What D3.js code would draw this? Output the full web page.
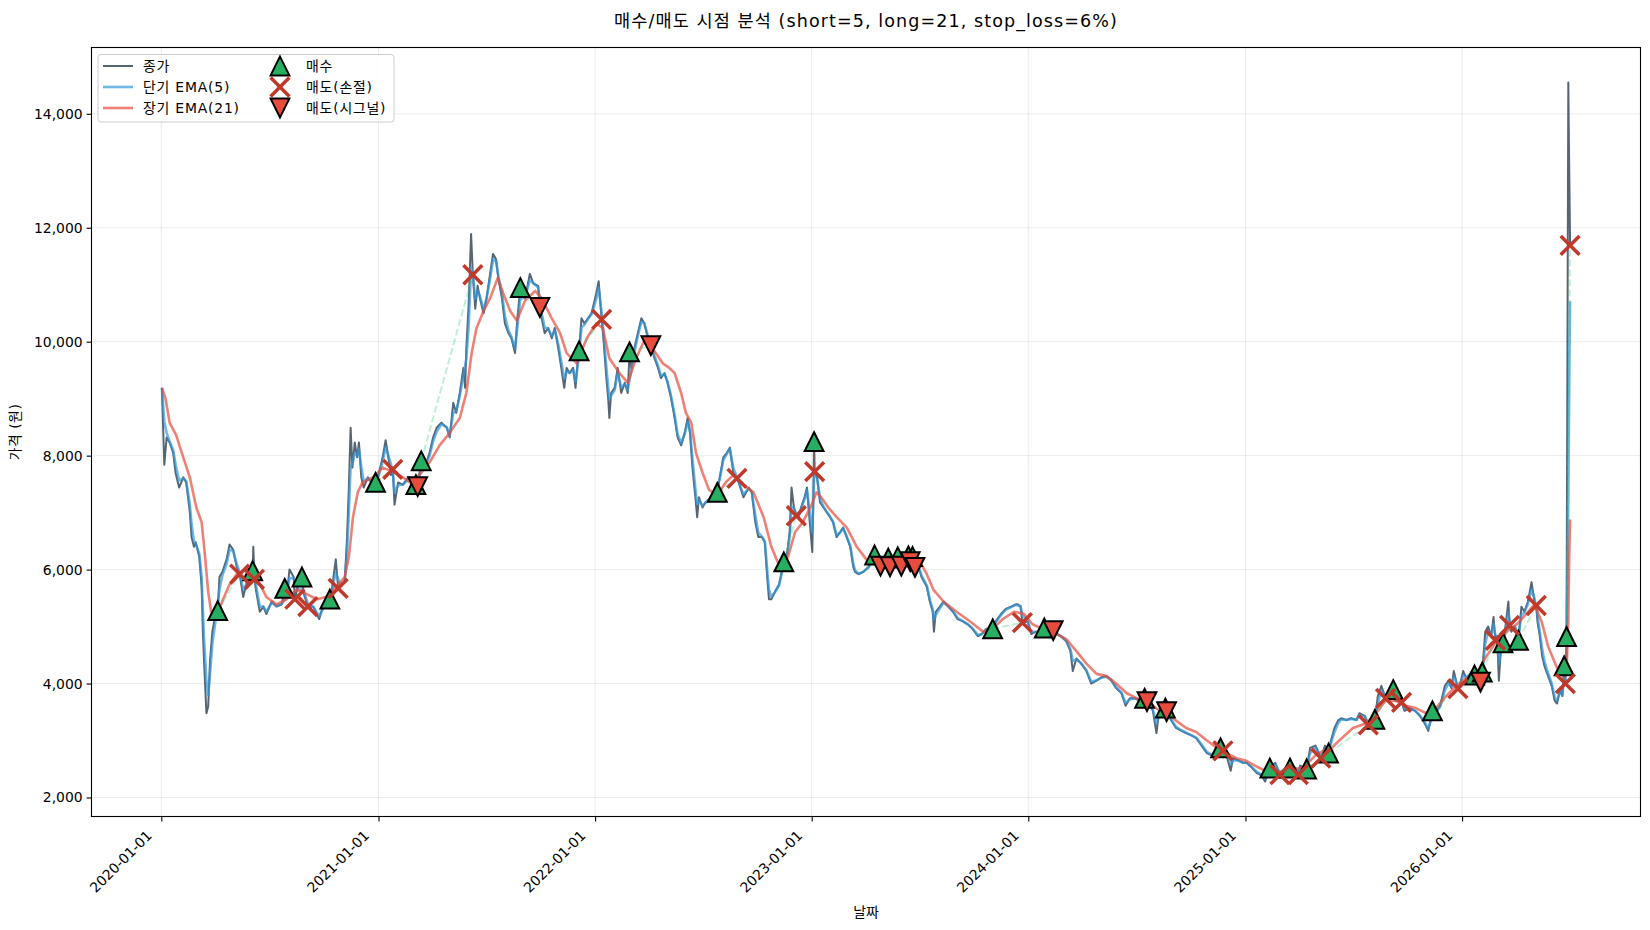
<!DOCTYPE html>
<html>
<head>
<meta charset="utf-8">
<script src="https://cdnjs.cloudflare.com/ajax/libs/d3/7.8.5/d3.min.js"></script>
<style>
body { margin: 0; background: #ffffff; }
text { font-family: "DejaVu Sans", "Noto Sans CJK KR", sans-serif; }
</style>
</head>
<body>
<script>
var w = 1650;
var h = 930;
var plotLeft = 91.5, plotRight = 1640.5, plotTop = 47.5, plotBottom = 816.5;

// 종가
var closeData = [
["2020-01-02",9190],["2020-01-06",7840],["2020-01-10",8320],["2020-01-15",8230],["2020-01-21",8050],["2020-01-25",7700],["2020-01-31",7440],["2020-02-07",7620],["2020-02-12",7530],["2020-02-18",7010],["2020-02-21",6570],["2020-02-25",6400],["2020-02-28",6480],["2020-03-05",6220],["2020-03-09",5700],["2020-03-11",4910],["2020-03-13",4400],["2020-03-17",3480],["2020-03-20",3600],["2020-03-23",4390],["2020-03-27",4910],["2020-04-02",5260],["2020-04-05",5280],["2020-04-08",5870],["2020-04-13",5960],["2020-04-20",6180],["2020-04-25",6440],["2020-05-01",6350],["2020-05-07",6050],["2020-05-12",5920],["2020-05-18",5520],["2020-05-24",5780],["2020-05-30",5960],["2020-06-03",5980],["2020-06-04",6400],["2020-06-06",5830],["2020-06-09",5610],["2020-06-15",5260],["2020-06-21",5350],["2020-06-26",5220],["2020-07-05",5440],["2020-07-13",5350],["2020-07-22",5390],["2020-07-27",5670],["2020-07-30",5520],["2020-08-04",6000],["2020-08-11",5870],["2020-08-13",5480],["2020-08-18",5700],["2020-08-25",5870],["2020-08-27",5610],["2020-09-04",5350],["2020-09-13",5350],["2020-09-23",5130],["2020-09-29",5350],["2020-10-08",5520],["2020-10-11",5480],["2020-10-15",5700],["2020-10-21",6180],["2020-10-25",5670],["2020-10-28",5700],["2020-11-05",5780],["2020-11-09",6570],["2020-11-12",7440],["2020-11-15",8490],["2020-11-18",7790],["2020-11-22",8230],["2020-11-26",7970],["2020-11-29",8230],["2020-12-03",7620],["2020-12-07",7440],["2020-12-14",7620],["2020-12-23",7490],["2020-12-27",7530],["2020-12-31",7620],
["2021-01-08",7970],["2021-01-13",8270],["2021-01-19",7880],["2021-01-22",7660],["2021-01-25",7760],["2021-01-28",7140],["2021-02-03",7530],["2021-02-11",7490],["2021-02-20",7620],["2021-03-01",7600],["2021-03-05",7490],["2021-03-08",7455],["2021-03-14",7910],["2021-03-20",7790],["2021-03-28",8050],["2021-04-03",8320],["2021-04-09",8490],["2021-04-17",8580],["2021-04-26",8490],["2021-05-01",8320],["2021-05-07",8930],["2021-05-12",8750],["2021-05-18",9100],["2021-05-24",9540],["2021-05-27",9190],["2021-05-29",9880],["2021-06-02",10670],["2021-06-06",11890],["2021-06-09",11175],["2021-06-13",10580],["2021-06-17",10980],["2021-06-21",10760],["2021-06-27",10500],["2021-07-02",10760],["2021-07-08",11190],["2021-07-13",11540],["2021-07-18",11450],["2021-07-22",11110],["2021-07-28",10760],["2021-08-02",10320],["2021-08-08",10150],["2021-08-13",10060],["2021-08-19",9800],["2021-08-23",10410],["2021-08-28",10950],["2021-09-05",10760],["2021-09-13",11190],["2021-09-19",11020],["2021-09-27",10980],["2021-09-30",10600],["2021-10-03",10410],["2021-10-08",10150],["2021-10-14",10240],["2021-10-20",10060],["2021-10-25",10240],["2021-10-31",9880],["2021-11-05",9540],["2021-11-10",9190],["2021-11-14",9540],["2021-11-19",9450],["2021-11-25",9540],["2021-11-29",9190],["2021-12-03",9710],["2021-12-05",9840],["2021-12-09",10410],["2021-12-14",10320],["2021-12-20",10410],["2021-12-26",10500],
["2022-01-03",10850],["2022-01-07",11060],["2022-01-12",10390],["2022-01-15",10060],["2022-01-20",9360],["2022-01-23",9010],["2022-01-25",8660],["2022-01-28",9100],["2022-02-03",9190],["2022-02-08",9540],["2022-02-14",9100],["2022-02-20",9280],["2022-02-25",9100],["2022-02-28",9820],["2022-03-03",9540],["2022-03-08",9880],["2022-03-14",10150],["2022-03-20",10410],["2022-03-25",10320],["2022-03-31",10060],["2022-04-05",9930],["2022-04-11",9710],["2022-04-17",9540],["2022-04-22",9360],["2022-04-28",9450],["2022-05-03",9280],["2022-05-09",9010],["2022-05-15",8660],["2022-05-20",8320],["2022-05-26",8180],["2022-06-01",8400],["2022-06-06",8660],["2022-06-10",8400],["2022-06-14",7790],["2022-06-19",7270],["2022-06-22",6920],["2022-06-25",7270],["2022-07-01",7090],["2022-07-06",7180],["2022-07-15",7270],["2022-07-23",7400],["2022-07-26",7355],["2022-07-30",7620],["2022-08-05",7970],["2022-08-11",8050],["2022-08-16",8140],["2022-08-22",7700],["2022-08-28",7600],["2022-08-31",7530],["2022-09-08",7270],["2022-09-17",7440],["2022-09-22",7355],["2022-09-28",6830],["2022-10-03",6570],["2022-10-09",6570],["2022-10-14",6480],["2022-10-18",5870],["2022-10-21",5480],["2022-10-25",5480],["2022-10-31",5610],["2022-11-07",5740],["2022-11-15",6135],["2022-11-21",6310],["2022-11-25",6660],["2022-11-28",7440],["2022-12-02",7090],["2022-12-06",6945],["2022-12-10",6920],["2022-12-14",7090],["2022-12-20",7270],["2022-12-24",7440],["2022-12-28",6920],
["2023-01-02",6310],["2023-01-04",7440],["2023-01-05",8245],["2023-01-06",7720],["2023-01-10",7620],["2023-01-15",7180],["2023-01-21",7090],["2023-01-26",7010],["2023-02-01",6920],["2023-02-06",6830],["2023-02-12",6570],["2023-02-18",6660],["2023-02-23",6740],["2023-03-01",6570],["2023-03-07",6400],["2023-03-12",6050],["2023-03-15",5960],["2023-03-21",5920],["2023-03-29",5960],["2023-04-07",6050],["2023-04-17",6256],["2023-04-27",6060],["2023-05-07",6180],["2023-05-10",6200],["2023-05-13",6050],["2023-05-18",6220],["2023-05-26",6225],["2023-06-01",6060],["2023-06-08",6220],["2023-06-13",6240],["2023-06-16",6140],["2023-06-20",6230],["2023-06-24",6040],["2023-06-30",6050],["2023-07-05",5870],["2023-07-14",5700],["2023-07-19",5440],["2023-07-24",5260],["2023-07-26",4910],["2023-07-29",5260],["2023-08-05",5350],["2023-08-11",5440],["2023-08-19",5350],["2023-08-27",5260],["2023-09-04",5130],["2023-09-13",5090],["2023-09-21",5040],["2023-09-29",4960],["2023-10-08",4830],["2023-10-15",4870],["2023-10-22",4960],["2023-11-02",4960],["2023-11-07",5090],["2023-11-16",5220],["2023-11-24",5310],["2023-12-03",5350],["2023-12-11",5390],["2023-12-14",5390],["2023-12-19",5350],["2023-12-22",5070],["2023-12-31",5090],
["2024-01-06",4870],["2024-01-14",4910],["2024-01-22",4870],["2024-01-28",4975],["2024-01-31",4960],["2024-02-08",4910],["2024-02-12",4930],["2024-02-17",4870],["2024-02-25",4830],["2024-03-05",4740],["2024-03-12",4570],["2024-03-16",4220],["2024-03-22",4440],["2024-03-30",4350],["2024-04-08",4220],["2024-04-16",4000],["2024-04-25",4050],["2024-05-03",4110],["2024-05-12",4130],["2024-05-20",4050],["2024-05-28",3920],["2024-06-06",3830],["2024-06-13",3610],["2024-06-20",3740],["2024-06-28",3740],["2024-07-07",3700],["2024-07-15",3740],["2024-07-19",3682],["2024-07-24",3610],["2024-07-29",3520],["2024-08-04",3130],["2024-08-08",3480],["2024-08-15",3430],["2024-08-19",3567],["2024-08-21",3507],["2024-08-29",3350],["2024-09-06",3220],["2024-09-15",3170],["2024-09-23",3130],["2024-10-02",3090],["2024-10-10",3040],["2024-10-19",2910],["2024-10-28",2780],["2024-11-05",2740],["2024-11-14",2830],["2024-11-20",2870],["2024-11-24",2820],["2024-11-30",2740],["2024-12-07",2470],["2024-12-11",2690],["2024-12-20",2650],["2024-12-28",2610],
["2025-01-03",2610],["2025-01-12",2520],["2025-01-20",2430],["2025-01-28",2390],["2025-02-03",2280],["2025-02-11",2515],["2025-02-20",2610],["2025-02-28",2400],["2025-03-09",2520],["2025-03-17",2515],["2025-03-26",2520],["2025-03-31",2400],["2025-04-03",2560],["2025-04-14",2500],["2025-04-20",2870],["2025-04-29",2910],["2025-05-08",2690],["2025-05-15",2910],["2025-05-21",2780],["2025-05-25",3000],["2025-05-31",3220],["2025-06-06",3350],["2025-06-11",3390],["2025-06-20",3360],["2025-06-28",3390],["2025-07-07",3360],["2025-07-12",3480],["2025-07-21",3430],["2025-07-27",3275],["2025-07-29",3300],["2025-08-07",3370],["2025-08-12",3780],["2025-08-18",3960],["2025-08-25",3740],["2025-08-29",3740],["2025-09-04",3870],["2025-09-07",3895],["2025-09-10",3700],["2025-09-21",3670],["2025-09-26",3520],["2025-10-05",3570],["2025-10-14",3520],["2025-10-22",3430],["2025-10-30",3300],["2025-11-05",3170],["2025-11-12",3520],["2025-11-17",3500],["2025-11-25",3610],["2025-12-03",3960],["2025-12-09",4050],["2025-12-14",3920],["2025-12-18",4220],["2025-12-25",3910],["2025-12-28",3960],
["2026-01-03",4220],["2026-01-08",4090],["2026-01-16",4180],["2026-01-22",4150],["2026-01-25",4130],["2026-02-01",4025],["2026-02-04",4200],["2026-02-09",4910],["2026-02-14",5000],["2026-02-19",4830],["2026-02-23",5170],["2026-02-26",4760],["2026-03-01",4830],["2026-03-04",4050],["2026-03-08",4740],["2026-03-11",4715],["2026-03-14",4910],["2026-03-20",5440],["2026-03-22",5020],["2026-03-25",4910],["2026-03-31",5000],["2026-04-06",4760],["2026-04-11",5350],["2026-04-16",5260],["2026-04-22",5440],["2026-04-28",5780],["2026-05-03",5440],["2026-05-06",5370],["2026-05-08",5090],["2026-05-12",4830],["2026-05-16",4480],["2026-05-20",4300],["2026-05-26",4130],["2026-06-01",3960],["2026-06-06",3700],["2026-06-10",3650],["2026-06-15",3900],["2026-06-19",3780],["2026-06-22",4310],["2026-06-24",4000],["2026-06-26",4824],["2026-06-29",14550],["2026-06-30",13500],["2026-07-01",12600],["2026-07-02",11690]
];

// 단기 EMA(5)
var ema5Data = [
["2020-01-02",9190],["2020-01-06",8600],["2020-01-10",8400],["2020-01-15",8250],["2020-01-21",8100],["2020-01-25",7850],["2020-01-31",7560],["2020-02-07",7600],["2020-02-12",7550],["2020-02-18",7150],["2020-02-21",6800],["2020-02-25",6500],["2020-02-28",6450],["2020-03-05",6280],["2020-03-09",5850],["2020-03-11",5300],["2020-03-13",4800],["2020-03-17",4050],["2020-03-20",3800],["2020-03-23",4150],["2020-03-27",4700],["2020-04-02",5150],["2020-04-08",5650],["2020-04-13",5900],["2020-04-20",6100],["2020-04-25",6350],["2020-05-01",6330],["2020-05-07",6100],["2020-05-12",5950],["2020-05-18",5650],["2020-05-24",5750],["2020-05-30",5900],["2020-06-04",6150],["2020-06-09",5700],["2020-06-15",5350],["2020-06-21",5350],["2020-06-26",5260],["2020-07-05",5420],["2020-07-13",5360],["2020-07-22",5400],["2020-07-30",5520],["2020-08-04",5850],["2020-08-11",5850],["2020-08-18",5650],["2020-08-27",5650],["2020-09-04",5400],["2020-09-13",5350],["2020-09-23",5180],["2020-09-29",5300],["2020-10-08",5480],["2020-10-15",5650],["2020-10-21",5950],["2020-10-28",5750],["2020-11-05",5780],["2020-11-09",6300],["2020-11-12",7000],["2020-11-15",7800],["2020-11-18",7850],["2020-11-22",8050],["2020-11-26",8000],["2020-11-29",8120],["2020-12-03",7800],["2020-12-07",7550],["2020-12-14",7600],["2020-12-23",7520],["2020-12-31",7600],
["2021-01-08",7900],["2021-01-13",8150],["2021-01-19",7950],["2021-01-25",7750],["2021-01-28",7350],["2021-02-03",7480],["2021-02-11",7490],["2021-02-20",7580],["2021-03-05",7500],["2021-03-08",7470],["2021-03-14",7800],["2021-03-20",7800],["2021-03-28",8000],["2021-04-03",8250],["2021-04-09",8420],["2021-04-17",8550],["2021-04-26",8500],["2021-05-01",8350],["2021-05-07",8750],["2021-05-12",8780],["2021-05-18",9050],["2021-05-24",9400],["2021-05-29",9700],["2021-06-02",10300],["2021-06-06",11300],["2021-06-09",11200],["2021-06-13",10750],["2021-06-17",10900],["2021-06-21",10800],["2021-06-27",10560],["2021-07-02",10750],["2021-07-08",11100],["2021-07-13",11450],["2021-07-18",11420],["2021-07-22",11150],["2021-07-28",10850],["2021-08-02",10450],["2021-08-08",10200],["2021-08-13",10080],["2021-08-19",9880],["2021-08-23",10250],["2021-08-28",10750],["2021-09-05",10780],["2021-09-13",11080],["2021-09-19",11030],["2021-09-27",10950],["2021-10-03",10500],["2021-10-08",10250],["2021-10-14",10230],["2021-10-20",10100],["2021-10-25",10200],["2021-10-31",9950],["2021-11-05",9650],["2021-11-10",9350],["2021-11-14",9480],["2021-11-19",9450],["2021-11-25",9500],["2021-11-29",9300],["2021-12-05",9750],["2021-12-09",10250],["2021-12-14",10300],["2021-12-20",10400],["2021-12-26",10480],
["2022-01-03",10750],["2022-01-07",10950],["2022-01-12",10500],["2022-01-15",10150],["2022-01-20",9550],["2022-01-25",9000],["2022-01-28",9050],["2022-02-03",9150],["2022-02-08",9450],["2022-02-14",9200],["2022-02-20",9260],["2022-02-25",9150],["2022-03-03",9500],["2022-03-08",9800],["2022-03-14",10100],["2022-03-20",10350],["2022-03-25",10320],["2022-03-31",10100],["2022-04-05",9950],["2022-04-11",9750],["2022-04-17",9580],["2022-04-22",9400],["2022-04-28",9430],["2022-05-03",9300],["2022-05-09",9050],["2022-05-15",8720],["2022-05-20",8380],["2022-05-26",8220],["2022-06-01",8380],["2022-06-06",8600],["2022-06-10",8420],["2022-06-14",7950],["2022-06-19",7420],["2022-06-22",7150],["2022-06-25",7220],["2022-07-01",7120],["2022-07-06",7170],["2022-07-15",7260],["2022-07-23",7380],["2022-07-30",7580],["2022-08-05",7920],["2022-08-11",8030],["2022-08-16",8120],["2022-08-22",7780],["2022-08-28",7620],["2022-09-08",7320],["2022-09-17",7420],["2022-09-22",7360],["2022-09-28",6950],["2022-10-03",6650],["2022-10-09",6580],["2022-10-14",6500],["2022-10-18",6000],["2022-10-21",5650],["2022-10-25",5520],["2022-10-31",5600],["2022-11-07",5720],["2022-11-15",6100],["2022-11-21",6280],["2022-11-25",6600],["2022-11-28",7100],["2022-12-02",7080],["2022-12-06",6980],["2022-12-10",6950],["2022-12-14",7060],["2022-12-20",7240],["2022-12-24",7400],["2022-12-28",7050],
["2023-01-02",6650],["2023-01-05",7600],["2023-01-06",7650],["2023-01-10",7620],["2023-01-15",7250],["2023-01-21",7100],["2023-01-26",7020],["2023-02-01",6930],["2023-02-06",6840],["2023-02-12",6600],["2023-02-18",6650],["2023-02-23",6720],["2023-03-01",6580],["2023-03-07",6420],["2023-03-12",6100],["2023-03-15",5990],["2023-03-21",5930],["2023-03-29",5960],["2023-04-07",6040],["2023-04-17",6200],["2023-04-27",6100],["2023-05-07",6160],["2023-05-13",6090],["2023-05-18",6190],["2023-06-01",6100],["2023-06-10",6200],["2023-06-16",6160],["2023-06-24",6080],["2023-06-30",6050],["2023-07-05",5900],["2023-07-14",5720],["2023-07-19",5480],["2023-07-24",5300],["2023-07-26",5120],["2023-07-29",5200],["2023-08-05",5320],["2023-08-11",5420],["2023-08-19",5360],["2023-08-27",5270],["2023-09-04",5150],["2023-09-13",5090],["2023-09-21",5040],["2023-09-29",4970],["2023-10-08",4850],["2023-10-15",4870],["2023-10-22",4950],["2023-11-02",4960],["2023-11-07",5070],["2023-11-16",5200],["2023-11-24",5300],["2023-12-03",5340],["2023-12-11",5380],["2023-12-19",5360],["2023-12-22",5200],["2023-12-31",5090],
["2024-01-06",4900],["2024-01-14",4910],["2024-01-22",4880],["2024-01-31",4950],["2024-02-08",4920],["2024-02-17",4880],["2024-02-25",4830],["2024-03-05",4750],["2024-03-12",4600],["2024-03-16",4400],["2024-03-22",4420],["2024-03-30",4360],["2024-04-08",4230],["2024-04-16",4030],["2024-04-25",4060],["2024-05-03",4100],["2024-05-12",4120],["2024-05-20",4060],["2024-05-28",3940],["2024-06-06",3840],["2024-06-13",3660],["2024-06-20",3720],["2024-06-28",3740],["2024-07-07",3710],["2024-07-15",3720],["2024-07-24",3620],["2024-07-29",3540],["2024-08-04",3300],["2024-08-08",3420],["2024-08-15",3440],["2024-08-21",3500],["2024-08-29",3370],["2024-09-06",3240],["2024-09-15",3180],["2024-09-23",3140],["2024-10-02",3090],["2024-10-10",3050],["2024-10-19",2930],["2024-10-28",2800],["2024-11-05",2750],["2024-11-14",2820],["2024-11-20",2850],["2024-11-30",2750],["2024-12-07",2580],["2024-12-11",2650],["2024-12-20",2650],["2024-12-28",2610],
["2025-01-03",2610],["2025-01-12",2530],["2025-01-20",2450],["2025-01-28",2400],["2025-02-03",2330],["2025-02-11",2470],["2025-02-20",2580],["2025-02-28",2440],["2025-03-09",2500],["2025-03-17",2510],["2025-03-26",2520],["2025-03-31",2450],["2025-04-03",2520],["2025-04-14",2530],["2025-04-20",2780],["2025-04-29",2880],["2025-05-08",2720],["2025-05-15",2860],["2025-05-21",2800],["2025-05-25",2950],["2025-05-31",3150],["2025-06-06",3300],["2025-06-11",3370],["2025-06-20",3360],["2025-06-28",3380],["2025-07-07",3360],["2025-07-12",3450],["2025-07-21",3430],["2025-07-27",3300],["2025-08-07",3380],["2025-08-12",3650],["2025-08-18",3880],["2025-08-25",3780],["2025-09-04",3830],["2025-09-10",3740],["2025-09-21",3680],["2025-09-26",3560],["2025-10-05",3560],["2025-10-14",3520],["2025-10-22",3440],["2025-10-30",3320],["2025-11-05",3210],["2025-11-12",3420],["2025-11-17",3480],["2025-11-25",3590],["2025-12-03",3880],["2025-12-09",4000],["2025-12-14",3950],["2025-12-18",4120],["2025-12-25",3950],["2025-12-28",3960],
["2026-01-03",4150],["2026-01-08",4110],["2026-01-16",4170],["2026-01-25",4140],["2026-02-01",4060],["2026-02-04",4150],["2026-02-09",4700],["2026-02-14",4920],["2026-02-19",4860],["2026-02-23",5050],["2026-02-26",4850],["2026-03-01",4830],["2026-03-04",4350],["2026-03-08",4600],["2026-03-14",4850],["2026-03-20",5250],["2026-03-22",5100],["2026-03-25",4980],["2026-03-31",5000],["2026-04-06",4850],["2026-04-11",5200],["2026-04-16",5250],["2026-04-22",5400],["2026-04-28",5650],["2026-05-03",5500],["2026-05-08",5200],["2026-05-12",4900],["2026-05-16",4600],["2026-05-20",4380],["2026-05-26",4180],["2026-06-01",4000],["2026-06-06",3760],["2026-06-10",3700],["2026-06-15",3850],["2026-06-19",3800],["2026-06-22",4100],["2026-06-24",4050],["2026-06-26",4500],["2026-06-29",7200],["2026-06-30",8500],["2026-07-01",9800],["2026-07-02",10710]
];

// 장기 EMA(21)
var ema21Data = [
["2020-01-02",9190],["2020-01-08",9010],["2020-01-15",8580],["2020-01-26",8360],["2020-02-07",7970],["2020-02-18",7620],["2020-02-29",7090],["2020-03-09",6830],["2020-03-14",6310],["2020-03-20",5610],["2020-03-25",5260],["2020-04-03",5170],["2020-04-14",5480],["2020-04-25",5740],["2020-05-07",5920],["2020-05-24",6000],["2020-06-09",5870],["2020-06-26",5520],["2020-07-13",5390],["2020-07-30",5480],["2020-08-16",5650],["2020-09-02",5570],["2020-09-19",5480],["2020-10-05",5520],["2020-10-22",5700],["2020-11-05",5870],["2020-11-12",6220],["2020-11-19",6920],["2020-11-27",7355],["2020-12-05",7530],["2020-12-23",7620],
["2021-01-08",7790],["2021-01-25",7720],["2021-02-11",7620],["2021-02-23",7530],["2021-03-11",7660],["2021-03-28",7880],["2021-04-14",8180],["2021-05-01",8400],["2021-05-18",8660],["2021-05-29",9100],["2021-06-07",9800],["2021-06-15",10230],["2021-06-27",10540],["2021-07-08",10760],["2021-07-21",11120],["2021-07-30",10850],["2021-08-11",10540],["2021-08-22",10370],["2021-09-05",10720],["2021-09-22",10890],["2021-10-03",10760],["2021-10-20",10410],["2021-11-03",10150],["2021-11-14",9800],["2021-12-01",9620],["2021-12-18",10060],
["2022-01-03",10320],["2022-01-14",10240],["2022-01-25",9710],["2022-02-11",9450],["2022-02-25",9280],["2022-03-11",9710],["2022-03-25",10020],["2022-04-08",9880],["2022-04-25",9620],["2022-05-06",9540],["2022-05-15",9450],["2022-05-26",9100],["2022-06-03",8750],["2022-06-12",8580],["2022-06-20",8050],["2022-07-01",7700],["2022-07-12",7400],["2022-07-26",7310],["2022-08-09",7530],["2022-08-22",7660],["2022-09-08",7490],["2022-09-25",7355],["2022-10-12",6920],["2022-10-25",6400],["2022-11-08",6050],["2022-11-22",6220],["2022-12-04",6660],["2022-12-17",6830],
["2023-01-01",7140],["2023-01-09",7355],["2023-01-17",7270],["2023-01-29",7090],["2023-02-12",6920],["2023-03-01",6740],["2023-03-18",6400],["2023-04-03",6180],["2023-04-26",6130],["2023-05-18",6180],["2023-06-10",6220],["2023-06-30",6180],["2023-07-14",5920],["2023-07-25",5650],["2023-08-11",5440],["2023-09-02",5260],["2023-09-25",5090],["2023-10-17",4910],["2023-11-02",4960],["2023-11-19",5130],["2023-12-08",5260],["2023-12-25",5220],
["2024-01-08",5040],["2024-01-25",4960],["2024-02-11",4910],["2024-03-05",4780],["2024-03-22",4570],["2024-04-08",4350],["2024-04-25",4170],["2024-05-12",4130],["2024-05-28",4000],["2024-06-15",3830],["2024-07-02",3740],["2024-07-19",3700],["2024-08-04",3560],["2024-08-21",3480],["2024-09-06",3350],["2024-09-23",3220],["2024-10-10",3150],["2024-10-28",3000],["2024-11-14",2870],["2024-11-30",2780],["2024-12-17",2690],
["2025-01-01",2650],["2025-01-17",2560],["2025-02-03",2470],["2025-02-20",2430],["2025-03-09",2470],["2025-03-26",2490],["2025-04-12",2560],["2025-04-29",2740],["2025-05-15",2840],["2025-05-22",2830],["2025-06-08",3000],["2025-07-01",3220],["2025-07-23",3300],["2025-08-09",3480],["2025-08-25",3700],["2025-09-11",3700],["2025-09-28",3610],["2025-10-15",3570],["2025-11-01",3480],["2025-11-18",3570],["2025-12-05",3780],["2025-12-22",3960],
["2026-01-08",4090],["2026-01-25",4180],["2026-02-11",4480],["2026-02-28",4740],["2026-03-17",4910],["2026-04-03",5040],["2026-04-19",5220],["2026-05-03",5390],["2026-05-15",5090],["2026-05-26",4650],["2026-06-09",4300],["2026-06-20",4130],["2026-06-26",4200],["2026-06-29",5100],["2026-06-30",5900],["2026-07-01",6450],["2026-07-02",6880]
];

// 매수 / 매도 points
var buyData = [
["2020-04-05",5280],["2020-06-03",5980],["2020-07-27",5670],["2020-08-25",5870],["2020-10-11",5480],["2020-12-27",7530],["2021-03-05",7490],["2021-03-14",7910],["2021-08-28",10950],["2021-12-05",9840],["2022-02-28",9820],["2022-07-26",7355],["2022-11-15",6135],["2023-01-05",8245],["2023-04-17",6256],["2023-05-10",6200],["2023-05-26",6225],["2023-06-13",6240],["2023-06-20",6230],["2023-11-02",4960],["2024-01-28",4975],["2024-07-15",3740],["2024-08-19",3567],["2024-11-20",2870],["2025-02-11",2515],["2025-03-17",2515],["2025-04-14",2500],["2025-05-21",2780],["2025-08-07",3370],["2025-09-07",3895],["2025-11-12",3520],["2026-01-22",4150],["2026-02-04",4200],["2026-03-11",4715],["2026-04-06",4760],["2026-06-22",4310],["2026-06-26",4824]
];
var stopSellData = [
["2020-05-12",5920],["2020-06-06",5830],["2020-08-13",5480],["2020-09-04",5350],["2020-10-25",5670],["2021-01-25",7760],["2021-06-09",11175],["2022-01-12",10390],["2022-08-28",7600],["2022-12-06",6945],["2023-01-06",7720],["2023-12-22",5070],["2024-11-24",2820],["2025-02-28",2400],["2025-03-31",2400],["2025-05-08",2690],["2025-07-27",3275],["2025-08-25",3740],["2025-09-21",3670],["2025-12-25",3910],["2026-02-26",4760],["2026-03-22",5020],["2026-05-06",5370],["2026-06-24",4000],["2026-07-02",11690]
];
var signalSellData = [
["2021-03-08",7455],["2021-09-30",10600],["2022-04-05",9930],["2023-04-27",6060],["2023-05-13",6050],["2023-06-01",6060],["2023-06-16",6140],["2023-06-24",6040],["2024-02-12",4930],["2024-07-19",3682],["2024-08-21",3507],["2026-02-01",4025]
];

var yTicks = [2000, 4000, 6000, 8000, 10000, 12000, 14000];
var xTickDates = ["2020-01-01","2021-01-01","2022-01-01","2023-01-01","2024-01-01","2025-01-01","2026-01-01"];
var titleText = "매수/매도 시점 분석 (short=5, long=21, stop_loss=6%)";
var legendLabels = ["종가", "단기 EMA(5)", "장기 EMA(21)", "매수", "매도(손절)", "매도(시그널)"];

var parseDate = d3.timeParse("%Y-%m-%d");
function toPoints(arr) {
    return arr.map(function(d) { return {date: parseDate(d[0]), value: d[1]}; });
}
var closePts = toPoints(closeData);
var ema5Pts = toPoints(ema5Data);
var ema21Pts = toPoints(ema21Data);
var buys = toPoints(buyData);
var stops = toPoints(stopSellData);
var signals = toPoints(signalSellData);

// matplotlib-like 5% margins around the data
var xExt = d3.extent(closePts, function(d) { return d.date; });
var xPad = (xExt[1] - xExt[0]) * 0.05;
var x = d3.scaleTime()
    .domain([new Date(+xExt[0] - xPad), new Date(+xExt[1] + xPad)])
    .range([plotLeft, plotRight]);
var yExt = d3.extent(closePts, function(d) { return d.value; });
var yPad = (yExt[1] - yExt[0]) * 0.05;
var y = d3.scaleLinear()
    .domain([yExt[0] - yPad, yExt[1] + yPad])
    .range([plotBottom, plotTop]);

var svg = d3.select("body").append("svg")
    .attr("width", w)
    .attr("height", h);

svg.append("rect").attr("width", w).attr("height", h).attr("fill", "#ffffff");

// grid
var grid = svg.append("g");
xTickDates.forEach(function(s) {
    var px = x(parseDate(s));
    grid.append("line").attr("x1", px).attr("x2", px).attr("y1", plotTop).attr("y2", plotBottom)
        .attr("stroke", "#b0b0b0").attr("stroke-opacity", 0.3).attr("stroke-width", 0.8);
});
yTicks.forEach(function(v) {
    grid.append("line").attr("x1", plotLeft).attr("x2", plotRight).attr("y1", y(v)).attr("y2", y(v))
        .attr("stroke", "#b0b0b0").attr("stroke-opacity", 0.3).attr("stroke-width", 0.8);
});

var line = d3.line()
    .x(function(d) { return x(d.date); })
    .y(function(d) { return y(d.value); });

svg.append("path").datum(closePts).attr("d", line)
    .attr("fill", "none").attr("stroke", "#2c3e50").attr("stroke-opacity", 0.8)
    .attr("stroke-width", 2).attr("stroke-linejoin", "round");
svg.append("path").datum(ema5Pts).attr("d", line)
    .attr("fill", "none").attr("stroke", "#3498db").attr("stroke-opacity", 0.7)
    .attr("stroke-width", 2.6).attr("stroke-linejoin", "round");
svg.append("path").datum(ema21Pts).attr("d", line)
    .attr("fill", "none").attr("stroke", "#e74c3c").attr("stroke-opacity", 0.7)
    .attr("stroke-width", 2.6).attr("stroke-linejoin", "round");

// trade lines: each buy joined to the next sell
var sells = stops.concat(signals).sort(function(a, b) { return a.date - b.date; });
var trades = buys.map(function(b, i) { return {buy: b, sell: sells[i]}; });
svg.append("g").selectAll("line").data(trades).join("line")
    .attr("x1", function(d) { return x(d.buy.date); })
    .attr("y1", function(d) { return y(d.buy.value); })
    .attr("x2", function(d) { return x(d.sell.date); })
    .attr("y2", function(d) { return y(d.sell.value); })
    .attr("stroke", function(d) { return d.sell.value > d.buy.value ? "#2ecc71" : "#e74c3c"; })
    .attr("stroke-opacity", 0.3)
    .attr("stroke-width", 2)
    .attr("stroke-dasharray", "7,3");

// marker shapes
var ms = 9.4;
function triUp(s) { return "M0," + (-s) + "L" + s + "," + s + "L" + (-s) + "," + s + "Z"; }
function triDown(s) { return "M0," + s + "L" + s + "," + (-s) + "L" + (-s) + "," + (-s) + "Z"; }
function cross(s) { return "M" + (-s) + "," + (-s) + "L" + s + "," + s + "M" + (-s) + "," + s + "L" + s + "," + (-s); }

function placeAt(d) { return "translate(" + x(d.date) + "," + y(d.value) + ")"; }

svg.append("g").selectAll("path").data(buys).join("path")
    .attr("d", triUp(ms)).attr("transform", placeAt)
    .attr("fill", "#27ae60").attr("stroke", "#000").attr("stroke-width", 2).attr("stroke-linejoin", "miter");
svg.append("g").selectAll("path").data(stops).join("path")
    .attr("d", cross(ms)).attr("transform", placeAt)
    .attr("fill", "none").attr("stroke", "#c0392b").attr("stroke-width", 3.5);
svg.append("g").selectAll("path").data(signals).join("path")
    .attr("d", triDown(ms)).attr("transform", placeAt)
    .attr("fill", "#e74c3c").attr("stroke", "#000").attr("stroke-width", 2).attr("stroke-linejoin", "miter");

// axes
var yAxis = d3.axisLeft(y).tickValues(yTicks).tickFormat(d3.format(",")).tickSize(4.9).tickPadding(4);
var gy = svg.append("g").attr("transform", "translate(" + plotLeft + ",0)").call(yAxis);
gy.select(".domain").remove();
gy.selectAll("line").attr("stroke", "#000").attr("stroke-width", 1.1);
gy.selectAll("text").attr("font-size", 13.9).attr("fill", "#000")
    .style("font-family", "'DejaVu Sans', 'Noto Sans CJK KR', sans-serif");

var xAxis = d3.axisBottom(x).tickValues(xTickDates.map(parseDate))
    .tickFormat(d3.timeFormat("%Y-%m-%d")).tickSize(4.9);
var gx = svg.append("g").attr("transform", "translate(0," + plotBottom + ")").call(xAxis);
gx.select(".domain").remove();
gx.selectAll("line").attr("stroke", "#000").attr("stroke-width", 1.1);
gx.selectAll("text")
    .attr("x", 0).attr("y", 0).attr("dy", 0)
    .attr("text-anchor", "end")
    .attr("transform", "translate(-9,20) rotate(-45)")
    .attr("font-size", 13.9).attr("fill", "#000")
    .style("font-family", "'DejaVu Sans', 'Noto Sans CJK KR', sans-serif");

// frame
svg.append("rect")
    .attr("x", plotLeft).attr("y", plotTop)
    .attr("width", plotRight - plotLeft).attr("height", plotBottom - plotTop)
    .attr("fill", "none").attr("stroke", "#000").attr("stroke-width", 1.1);

// titles
svg.append("text")
    .text(titleText)
    .attr("x", (plotLeft + plotRight) / 2)
    .attr("y", 27)
    .attr("text-anchor", "middle")
    .attr("font-size", 17.5)
    .attr("letter-spacing", 1.1)
    .attr("fill", "#000");
svg.append("text")
    .text("날짜")
    .attr("x", (plotLeft + plotRight) / 2)
    .attr("y", 917)
    .attr("text-anchor", "middle")
    .attr("font-size", 13.9)
    .attr("fill", "#000");
svg.append("text")
    .text("가격 (원)")
    .attr("transform", "translate(20," + ((plotTop + plotBottom) / 2) + ") rotate(-90)")
    .attr("text-anchor", "middle")
    .attr("font-size", 13.9)
    .attr("letter-spacing", 0.5)
    .attr("fill", "#000");

// legend
var lg = svg.append("g");
lg.append("rect")
    .attr("x", 98).attr("y", 54.5).attr("width", 296).attr("height", 67.5)
    .attr("rx", 3).attr("fill", "#ffffff").attr("fill-opacity", 0.8)
    .attr("stroke", "#cccccc").attr("stroke-width", 1);
var rowY = [66, 87, 108];
var lineStyles = [
    {color: "#2c3e50", op: 0.8, width: 2},
    {color: "#3498db", op: 0.7, width: 2.6},
    {color: "#e74c3c", op: 0.7, width: 2.6}
];
lineStyles.forEach(function(s, i) {
    lg.append("line").attr("x1", 103).attr("x2", 133).attr("y1", rowY[i]).attr("y2", rowY[i])
        .attr("stroke", s.color).attr("stroke-opacity", s.op).attr("stroke-width", s.width);
    lg.append("text").text(legendLabels[i]).attr("x", 143).attr("y", rowY[i] + 5)
        .attr("font-size", 13.9).attr("letter-spacing", 0.8).attr("fill", "#000");
});
lg.append("path").attr("d", triUp(ms)).attr("transform", "translate(280," + rowY[0] + ")")
    .attr("fill", "#27ae60").attr("stroke", "#000").attr("stroke-width", 2);
lg.append("path").attr("d", cross(ms)).attr("transform", "translate(280," + rowY[1] + ")")
    .attr("fill", "none").attr("stroke", "#c0392b").attr("stroke-width", 3.5);
lg.append("path").attr("d", triDown(ms)).attr("transform", "translate(280," + rowY[2] + ")")
    .attr("fill", "#e74c3c").attr("stroke", "#000").attr("stroke-width", 2);
[3, 4, 5].forEach(function(k, i) {
    lg.append("text").text(legendLabels[k]).attr("x", 306).attr("y", rowY[i] + 5)
        .attr("font-size", 13.9).attr("letter-spacing", 0.8).attr("fill", "#000");
});
</script>
</body>
</html>
